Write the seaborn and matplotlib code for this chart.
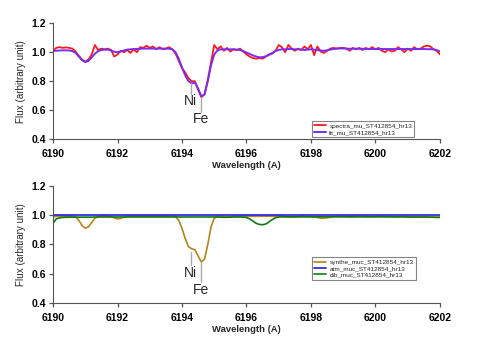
import numpy as np
import pandas as pd
import matplotlib
matplotlib.use("Agg")
import matplotlib.pyplot as plt
import seaborn as sns

# wavelength grid (A), 0.1 A steps
wave = np.round(np.arange(6190.0, 6202.05, 0.1), 1)

# --- top panel: observed spectrum and fit ---
spectra_mu = [
    1.010, 1.030, 1.035, 1.030, 1.033, 1.030, 1.025, 1.005, 0.975, 0.950,
    0.935, 0.950, 0.985, 1.050, 1.015, 1.025, 1.020, 1.025, 1.015, 0.970,
    0.985, 1.010, 1.000, 1.015, 0.995, 1.020, 1.000, 1.035, 1.030, 1.045,
    1.030, 1.040, 1.020, 1.035, 1.020, 1.025, 1.035, 1.020, 0.990, 0.940,
    0.890, 0.860, 0.820, 0.800, 0.800, 0.740, 0.690, 0.710, 0.810, 0.930,
    1.050, 1.020, 1.040, 1.010, 1.030, 1.005, 1.020, 1.015, 1.025, 1.005,
    0.985, 0.970, 0.960, 0.955, 0.960, 0.955, 0.970, 0.985, 0.990, 1.010,
    1.050, 1.035, 1.000, 1.050, 1.025, 1.010, 1.025, 1.015, 1.040, 1.020,
    1.050, 0.980, 1.040, 1.005, 0.995, 1.010, 1.025, 1.030, 1.025, 1.030,
    1.030, 1.025, 1.010, 1.030, 1.020, 1.030, 1.015, 1.030, 1.020, 1.035,
    1.020, 1.030, 1.010, 1.000, 1.020, 1.005, 1.010, 1.035, 1.020, 1.000,
    1.025, 1.010, 1.035, 1.020, 1.025, 1.040, 1.045, 1.040, 1.020, 1.010,
    0.985,
]
fit_mu = [
    1.010, 1.010, 1.012, 1.013, 1.013, 1.012, 1.008, 0.995, 0.970, 0.945,
    0.932, 0.940, 0.965, 0.990, 1.008, 1.015, 1.018, 1.018, 1.012, 1.003,
    1.000, 1.005, 1.012, 1.018, 1.020, 1.022, 1.022, 1.024, 1.025, 1.025,
    1.025, 1.025, 1.025, 1.025, 1.025, 1.025, 1.024, 1.020, 1.000, 0.955,
    0.895, 0.840, 0.800, 0.785, 0.790, 0.750, 0.695, 0.710, 0.800, 0.910,
    0.985, 1.012, 1.020, 1.020, 1.020, 1.020, 1.020, 1.018, 1.015, 1.008,
    0.998, 0.988, 0.978, 0.970, 0.965, 0.966, 0.972, 0.982, 0.995, 1.008,
    1.016, 1.020, 1.020, 1.022, 1.022, 1.020, 1.020, 1.018, 1.016, 1.018,
    1.020, 1.018, 1.015, 1.012, 1.010, 1.013, 1.018, 1.022, 1.025, 1.026,
    1.026, 1.025, 1.024, 1.024, 1.024, 1.024, 1.023, 1.023, 1.022, 1.022,
    1.022, 1.022, 1.022, 1.022, 1.022, 1.022, 1.022, 1.022, 1.022, 1.022,
    1.022, 1.022, 1.022, 1.022, 1.022, 1.022, 1.021, 1.021, 1.020, 1.015,
    1.005,
]

# --- bottom panel: synthetic, telluric and DIB components ---
synthe_muc = [
    0.990, 0.992, 0.993, 0.993, 0.993, 0.993, 0.992, 0.990, 0.965, 0.930,
    0.912, 0.920, 0.950, 0.980, 0.990, 0.992, 0.993, 0.993, 0.990, 0.982,
    0.975, 0.978, 0.988, 0.992, 0.993, 0.993, 0.993, 0.993, 0.993, 0.993,
    0.993, 0.993, 0.993, 0.993, 0.993, 0.993, 0.993, 0.993, 0.990, 0.965,
    0.910, 0.840, 0.785, 0.770, 0.765, 0.720, 0.680, 0.700, 0.800, 0.920,
    0.980, 0.990, 0.992, 0.990, 0.988, 0.990, 0.992, 0.993, 0.993, 0.993,
    0.993, 0.993, 0.993, 0.993, 0.993, 0.993, 0.993, 0.993, 0.993, 0.993,
    0.993, 0.992, 0.990, 0.988, 0.987, 0.988, 0.990, 0.992, 0.992, 0.990,
    0.990, 0.988, 0.984, 0.980, 0.980, 0.982, 0.986, 0.990, 0.992, 0.992,
    0.992, 0.991, 0.990, 0.990, 0.991, 0.992, 0.992, 0.991, 0.990, 0.990,
    0.991, 0.992, 0.992, 0.991, 0.990, 0.990, 0.989, 0.989, 0.990, 0.990,
    0.989, 0.988, 0.988, 0.988, 0.988, 0.987, 0.987, 0.986, 0.986, 0.985,
    0.985,
]
atm_muc = [
    1.000, 1.000, 1.000, 1.000, 1.000, 1.000, 1.000, 1.000, 1.000, 1.000,
    1.000, 1.000, 1.000, 1.000, 1.000, 1.000, 1.000, 1.000, 1.000, 1.000,
    1.000, 1.000, 1.000, 1.000, 1.000, 1.000, 1.000, 1.000, 1.000, 1.000,
    1.000, 1.000, 1.000, 1.000, 1.000, 1.000, 1.000, 1.000, 1.000, 1.000,
    1.000, 1.000, 1.000, 1.000, 1.000, 1.000, 1.000, 1.000, 1.000, 1.000,
    1.000, 1.000, 1.000, 1.000, 1.000, 1.000, 1.000, 1.000, 1.000, 1.000,
    1.000, 1.000, 1.000, 1.000, 1.000, 1.000, 1.000, 1.000, 1.000, 1.000,
    1.000, 1.000, 1.000, 1.000, 1.000, 1.000, 1.000, 1.000, 1.000, 1.000,
    1.000, 1.000, 1.000, 1.000, 1.000, 1.000, 1.000, 1.000, 1.000, 1.000,
    1.000, 1.000, 1.000, 1.000, 1.000, 1.000, 1.000, 1.000, 1.000, 1.000,
    1.000, 1.000, 1.000, 1.000, 1.000, 1.000, 1.000, 1.000, 1.000, 1.000,
    1.000, 1.000, 1.000, 1.000, 1.000, 1.000, 1.000, 1.000, 1.000, 1.000,
    1.000,
]
dib_muc = [
    0.945, 0.975, 0.982, 0.985, 0.986, 0.987, 0.987, 0.987, 0.987, 0.987,
    0.987, 0.987, 0.987, 0.988, 0.988, 0.988, 0.988, 0.988, 0.988, 0.988,
    0.988, 0.988, 0.988, 0.988, 0.988, 0.988, 0.988, 0.988, 0.988, 0.988,
    0.988, 0.988, 0.988, 0.988, 0.988, 0.988, 0.988, 0.988, 0.988, 0.988,
    0.988, 0.988, 0.988, 0.988, 0.988, 0.988, 0.988, 0.988, 0.988, 0.988,
    0.988, 0.988, 0.987, 0.986, 0.986, 0.987, 0.988, 0.988, 0.988, 0.987,
    0.985, 0.975, 0.960, 0.945, 0.937, 0.935, 0.940, 0.955, 0.970, 0.983,
    0.988, 0.989, 0.989, 0.989, 0.989, 0.989, 0.989, 0.989, 0.989, 0.989,
    0.989, 0.989, 0.989, 0.989, 0.989, 0.989, 0.989, 0.989, 0.989, 0.989,
    0.989, 0.989, 0.989, 0.989, 0.989, 0.989, 0.989, 0.989, 0.989, 0.989,
    0.989, 0.989, 0.989, 0.989, 0.989, 0.989, 0.989, 0.989, 0.989, 0.989,
    0.988, 0.988, 0.988, 0.988, 0.988, 0.988, 0.988, 0.987, 0.987, 0.986,
    0.986,
]

# line identifications: (label, wavelength)
lines = [("Ni", 6194.27), ("Fe", 6194.59)]

top = pd.DataFrame({"wave": wave, "spectra": spectra_mu, "fit": fit_mu})
bot = pd.DataFrame({"wave": wave, "synthe": synthe_muc, "atm": atm_muc, "dib": dib_muc})

sns.set_style("ticks")
plt.rcParams["font.family"] = ["Liberation Sans", "DejaVu Sans"]
plt.rcParams["axes.edgecolor"] = "#555555"
plt.rcParams["xtick.color"] = "#555555"
plt.rcParams["ytick.color"] = "#555555"

fig = plt.figure(figsize=(4.91, 3.47), dpi=100)
ax1 = fig.add_axes([0.108, 0.599, 0.788, 0.334])
ax2 = fig.add_axes([0.108, 0.127, 0.788, 0.337])

sns.lineplot(data=top, x="wave", y="spectra", ax=ax1, color="#ff1a1a", lw=1.3,
             label="spectra_mu_ST412854_hr13")
sns.lineplot(data=top, x="wave", y="fit", ax=ax1, color="#7b2cf0", lw=1.4,
             label="fit_mu_ST412854_hr13")

sns.lineplot(data=bot, x="wave", y="synthe", ax=ax2, color="#b5841a", lw=1.2,
             label="synthe_muc_ST412854_hr13")
sns.lineplot(data=bot, x="wave", y="atm", ax=ax2, color="#1f1fe0", lw=1.2,
             label="atm_muc_ST412854_hr13")
sns.lineplot(data=bot, x="wave", y="dib", ax=ax2, color="#107a10", lw=1.2,
             label="dib_muc_ST412854_hr13")

# annotation marks (top / bottom): line start, line end, text y
ann_top = {"Ni": (0.786, 0.71, 0.662), "Fe": (0.683, 0.586, 0.538)}
ann_bot = {"Ni": (0.75, 0.66, 0.606), "Fe": (0.67, 0.545, 0.488)}

for ax, ann, leg_y in [(ax1, ann_top, 0.017), (ax2, ann_bot, 0.197)]:
    ax.set_xlim(6190, 6202)
    ax.set_ylim(0.4, 1.2)
    ax.set_xticks(range(6190, 6203, 2))
    ax.set_yticks([0.4, 0.6, 0.8, 1.0, 1.2])
    ax.set_yticklabels([f"{v:.1f}" for v in [0.4, 0.6, 0.8, 1.0, 1.2]])
    ax.tick_params(labelsize=7.5, length=3, width=0.9, labelcolor="black")
    ax.tick_params(axis="x", pad=4)
    ax.tick_params(axis="y", pad=2)
    for lab in ax.get_xticklabels() + ax.get_yticklabels():
        lab.set_fontweight("bold")
    ax.set_xlabel("Wavelength (A)", fontsize=6.8, fontweight="bold", labelpad=1.5)
    ax.set_ylabel("Flux (arbitrary unit)", fontsize=7.1, labelpad=4)
    sns.despine(ax=ax)
    for name, wl in lines:
        y0, y1, yt = ann[name]
        ax.plot([wl, wl], [y0, y1], color="#aaaaaa", lw=1)
        ax.text(wl, yt, name, ha="center", va="center", fontsize=10)
    leg = ax.legend(loc="lower left", bbox_to_anchor=(0.669, leg_y), fontsize=4.6,
                    frameon=True, fancybox=False, handlelength=1.9,
                    handletextpad=0.5, borderpad=0.35, labelspacing=0.15,
                    borderaxespad=0)
    leg.get_frame().set_edgecolor("#666666")
    leg.get_frame().set_linewidth(0.8)

fig.savefig("out.png", dpi=100)
